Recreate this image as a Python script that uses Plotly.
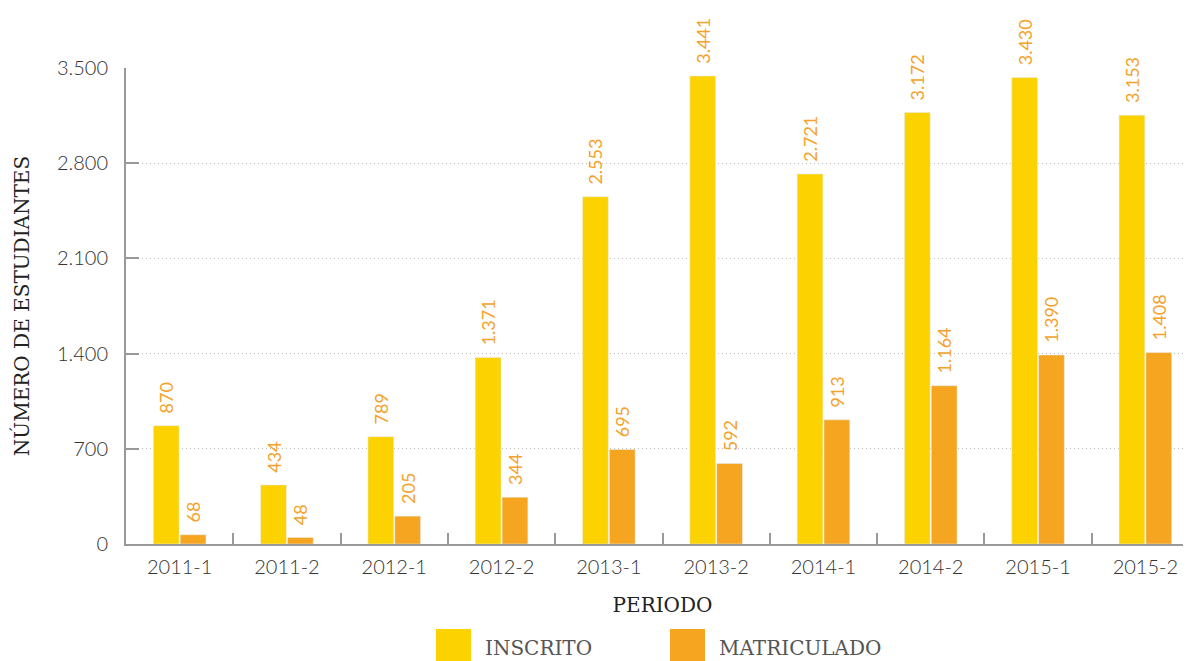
import plotly.graph_objects as go

periodos = ["2011-1", "2011-2", "2012-1", "2012-2", "2013-1",
            "2013-2", "2014-1", "2014-2", "2015-1", "2015-2"]
inscrito = [870, 434, 789, 1371, 2553, 3441, 2721, 3172, 3430, 3153]
matriculado = [68, 48, 205, 344, 695, 592, 913, 1164, 1390, 1408]
series_names = ["INSCRITO", "MATRICULADO"]
y_ticks = [0, 700, 1400, 2100, 2800, 3500]

AMARILLO = "#FCD200"
NARANJA = "#F6A521"
LABEL_COLOR = "#F4A22A"

# la página html añade 8px de margen; se compensa aquí
L, T, B, W, H = 118, 60, 125, 1191, 661
PW = W - L
PH = H - T - B


def px(fx):
    return (fx - 118) / PW


def py(fy):
    return (H - B - fy) / PH


fig = go.Figure()
for name, vals, color in [(series_names[0], inscrito, AMARILLO),
                          (series_names[1], matriculado, NARANJA)]:
    fig.add_trace(go.Bar(
        x=periodos, y=vals, name=name, marker_color=color,
        text=vals, texttemplate="\u00a0\u00a0%{y:,}", textposition="outside",
        textangle=-90, cliponaxis=False,
        textfont=dict(family="Lato", size=18, color=LABEL_COLOR),
        showlegend=False,
    ))

# leyenda con cuadros grandes
legend_items = [(series_names[0], AMARILLO, 428), (series_names[1], NARANJA, 662)]
for name, color, x0 in legend_items:
    fig.add_shape(type="rect", xref="paper", yref="paper",
                  x0=px(x0), x1=px(x0 + 35), y0=py(660), y1=py(621),
                  fillcolor=color, line_width=0)
    fig.add_annotation(text=name, xref="paper", yref="paper",
                       x=px(x0 + 47), y=py(640),
                       xanchor="left", yanchor="middle", showarrow=False,
                       font=dict(family="DejaVu Serif", size=20, color="#555"))

fig.update_layout(
    width=W, height=H,
    margin=dict(l=L, r=0, t=T, b=B),
    plot_bgcolor="white", paper_bgcolor="white",
    separators=",.",
    barmode="group", bargap=0.5, bargroupgap=0.04,
    uniformtext=dict(mode="show", minsize=18),
    font=dict(family="Lato", color="#444"),
)
fig.update_xaxes(
    type="category", automargin=False,
    range=[-0.5, 9.5], tickson="boundaries", ticks="inside", ticklen=11,
    tickwidth=2, tickcolor="#999", showline=True, linecolor="#999", linewidth=2,
    tickfont=dict(family="Lato", size=20, color="#333", weight=300),
    ticklabelstandoff=4,
    title=dict(text="PERIODO", font=dict(family="DejaVu Serif", size=20, color="#222"),
               standoff=21),
    showgrid=False,
)
fig.update_yaxes(
    automargin=False,
    range=[0, 3500], tickvals=y_ticks, tickformat=",", ticks="inside", ticklen=13,
    tickwidth=2, tickcolor="#999", showline=True, linecolor="#999", linewidth=2,
    tickfont=dict(family="Lato", size=20, color="#333", weight=300),
    ticklabelstandoff=12,
    showgrid=True, gridcolor="#BDBDBD", griddash="1px,3px", gridwidth=1,
    zeroline=False,
    title=dict(text="NÚMERO DE ESTUDIANTES",
               font=dict(family="DejaVu Serif", size=20, color="#222"), standoff=22),
)

fig.write_html("out.html")
